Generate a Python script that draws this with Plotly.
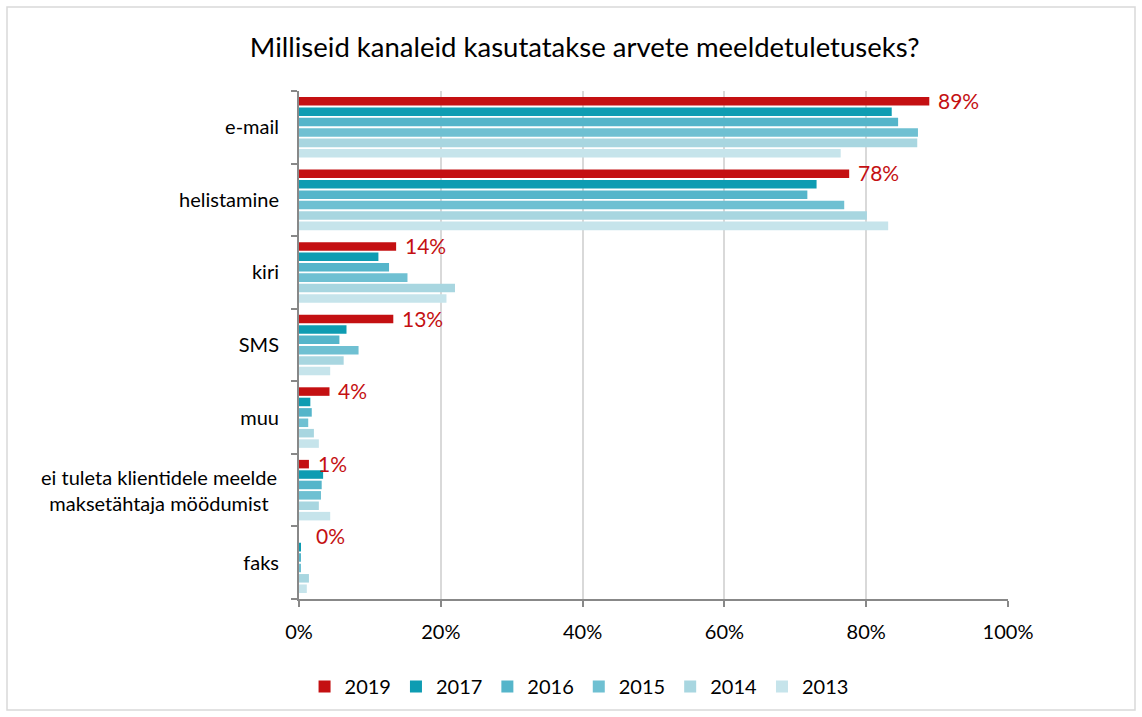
import plotly.graph_objects as go

categories = ["e-mail", "helistamine", "kiri", "SMS", "muu",
              "ei tuleta klientidele meelde<br>maksetähtaja möödumist", "faks"]
years = ["2019", "2017", "2016", "2015", "2014", "2013"]

v2019 = [88.9, 77.6, 13.7, 13.3, 4.3, 1.4, 0.0]
v2017 = [83.6, 73.0, 11.2, 6.7, 1.6, 3.4, 0.2]
v2016 = [84.5, 71.7, 12.7, 5.7, 1.8, 3.2, 0.25]
v2015 = [87.3, 76.9, 15.3, 8.4, 1.3, 3.1, 0.2]
v2014 = [87.2, 80.1, 22.0, 6.3, 2.1, 2.8, 1.4]
v2013 = [76.4, 83.1, 20.8, 4.4, 2.8, 4.4, 1.1]
labels2019 = ["89%", "78%", "14%", "13%", "4%", "1%", "0%"]

series = [v2019, v2017, v2016, v2015, v2014, v2013]
colors = ["#C41012", "#0E9CB2", "#55B5CA", "#6FC0D2", "#A8D6E0", "#C6E4EB"]

FONT = "Lato"
fig = go.Figure()
for name, vals, col in zip(years, series, colors):
    fig.add_trace(go.Bar(
        y=categories, x=vals, name=name, orientation="h",
        marker=dict(color=col, line=dict(width=0)),
    ))

for cat, val, lab in zip(categories, v2019, labels2019):
    fig.add_annotation(
        x=val, y=cat, text=lab, showarrow=False, xanchor="left",
        xshift=7 if val > 0.5 else 15, yshift=27,
        font=dict(family=FONT, size=21, color="#C41012"),
    )

# multi-line category label, centred lines like the reference
ticktext = [c if "<br>" not in c else "" for c in categories]
for c in categories:
    if "<br>" in c:
        fig.add_annotation(x=0, xref="paper", y=c, text=c, showarrow=False,
                           xanchor="right", align="center", xshift=-20,
                           font=dict(family=FONT, size=20, color="#000000"))

fig.update_layout(
    width=1142, height=717,
    paper_bgcolor="white", plot_bgcolor="white",
    margin=dict(l=299, r=134, t=91, b=118, autoexpand=False),
    barmode="group", bargap=0.14, bargroupgap=0.18,
    font=dict(family=FONT, size=20, color="#000000"),
    title=dict(text="Milliseid kanaleid kasutatakse arvete meeldetuletuseks?",
               x=0.512, xanchor="center", y=1 - 47 / 717, yanchor="middle",
               yref="container",
               font=dict(family=FONT, size=27.5, color="#000000")),
    legend=dict(orientation="h", x=0.395, xanchor="center", y=-0.172,
                yanchor="middle", font=dict(family=FONT, size=20),
                itemwidth=30, traceorder="normal"),
    showlegend=True,
)
fig.update_xaxes(
    range=[0, 100], dtick=20, ticksuffix="%",
    showgrid=True, gridcolor="#D9D9D9", gridwidth=2,
    showline=True, linecolor="#888888", linewidth=2,
    ticks="outside", ticklen=6, tickcolor="#888888", tickwidth=2,
    tickfont=dict(family=FONT, size=20), zeroline=False,
    ticklabelstandoff=8, automargin=False,
)
fig.update_yaxes(
    range=[len(categories) - 0.5, -0.5], showgrid=False,
    showline=True, linecolor="#888888", linewidth=2,
    ticks="outside", ticklen=6, tickcolor="#888888", tickwidth=2,
    tickson="boundaries", tickfont=dict(family=FONT, size=20),
    tickmode="array", tickvals=categories, ticktext=ticktext,
    ticklabelstandoff=14, automargin=False,
)
fig.add_shape(type="rect", xref="paper", yref="paper",
              x0=(7 - 299) / 709, x1=(1135 - 299) / 709,
              y0=(599 - 710) / 508, y1=(599 - 7) / 508,
              line=dict(color="#D9D9D9", width=1.5), layer="below")

fig.write_html("out.html", config={"displayModeBar": False},
               post_script="document.body.style.margin='0px';")
